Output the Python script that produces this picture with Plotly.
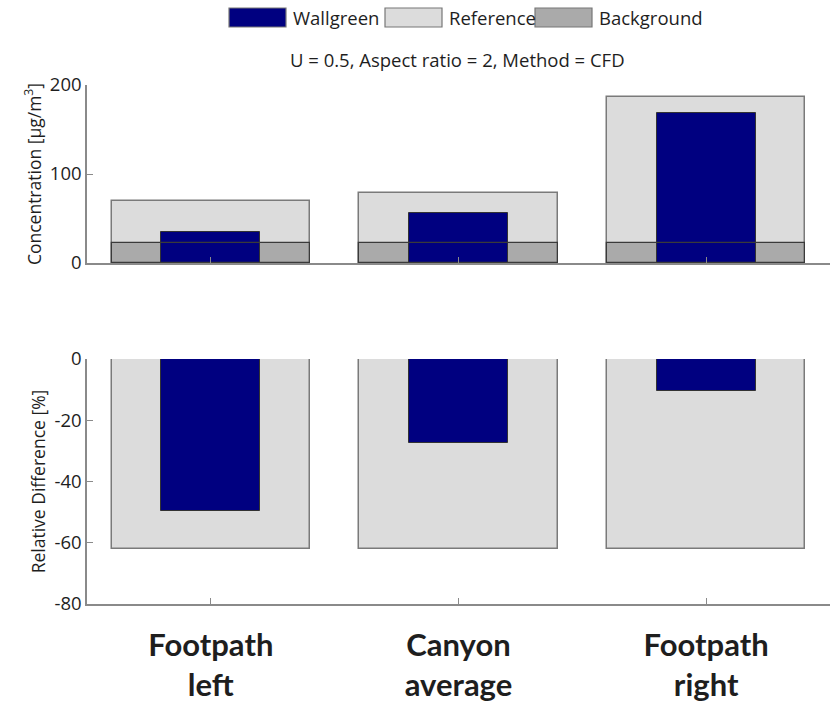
import plotly.graph_objects as go

# Categories and values
categories = ["Footpath<br>left", "Canyon<br>average", "Footpath<br>right"]
positions = [1, 2, 3]

reference_conc = [70, 79, 187]      # µg/m3
background_conc = [23, 23, 23]      # µg/m3
wallgreen_conc = [35, 56.5, 168]    # µg/m3

reference_rel = [-62, -62, -62]     # %
wallgreen_rel = [-49.5, -27.5, -10.5]  # %

conc_ticks = [0, 100, 200]
rel_ticks = [0, -20, -40, -60, -80]

W, H = 834, 711
NAVY = "#000080"
LIGHT = "#dcdcdc"
MID = "#aaaaaa"
AXIS = "#8a8a8a"
FONT = "Open Sans"
TXT = "#1e1e1e"

fig = go.Figure()

# Upper panel: absolute concentrations
fig.add_bar(x=positions, y=reference_conc, width=0.8,
            marker=dict(color=LIGHT, line=dict(color="#7a7a7a", width=1.5)),
            xaxis="x", yaxis="y", name="Reference")
fig.add_bar(x=positions, y=background_conc, width=0.8,
            marker=dict(color=MID, line=dict(color="#7a7a7a", width=1)),
            xaxis="x", yaxis="y", name="Background")
fig.add_bar(x=positions, y=wallgreen_conc, width=0.4,
            marker=dict(color=NAVY, line=dict(color="#333333", width=1)),
            xaxis="x", yaxis="y", name="Wallgreen")
# background outline drawn over the wallgreen bars
fig.add_bar(x=positions, y=background_conc, width=0.8,
            marker=dict(color="rgba(0,0,0,0)", line=dict(color="#3a3a3a", width=1.3)),
            xaxis="x", yaxis="y", name="Background", hoverinfo="skip")

# Lower panel: relative differences
fig.add_bar(x=positions, y=reference_rel, width=0.8,
            marker=dict(color=LIGHT, line=dict(color="#7a7a7a", width=1.5)),
            xaxis="x2", yaxis="y2", name="Reference")
fig.add_bar(x=positions, y=wallgreen_rel, width=0.4,
            marker=dict(color=NAVY, line=dict(color="#333333", width=1)),
            xaxis="x2", yaxis="y2", name="Wallgreen")


def px_x(p):
    return p / W


def px_y(p):
    return 1 - p / H


axis_common = dict(showline=True, linecolor=AXIS, linewidth=1.5, ticks="inside", ticklen=6,
                   tickcolor=AXIS, showgrid=False, zeroline=False, automargin=False)
tick_font = dict(family=FONT, size=18.5, color=TXT)
title_font = dict(family=FONT, size=17.5, color=TXT)

fig.update_layout(
    width=W, height=H,
    margin=dict(l=0, r=0, t=0, b=0),
    paper_bgcolor="white", plot_bgcolor="white",
    barmode="overlay", bargap=0,
    showlegend=False,
    font=dict(family=FONT, color=TXT),
    xaxis=dict(domain=[px_x(87), px_x(830)], range=[0.5, 3.5], anchor="y",
               tickvals=positions, showticklabels=False, **axis_common),
    yaxis=dict(domain=[px_y(263), px_y(85)], range=[0, 200], anchor="x",
               tickvals=conc_ticks, ticktext=[str(v) for v in conc_ticks], tickfont=tick_font,
               ticklabelstandoff=0,
               title=dict(text="Concentration [µg/m<sup>3</sup>]", font=title_font, standoff=4),
               **axis_common),
    xaxis2=dict(domain=[px_x(87), px_x(830)], range=[0.5, 3.5], anchor="y2",
                tickvals=positions, ticktext=categories, ticklabelstandoff=13,
                tickfont=dict(family="Lato", size=31, color=TXT, weight="bold"),
                **axis_common),
    yaxis2=dict(domain=[px_y(604), px_y(359)], range=[-80, 0], anchor="x2",
                tickvals=rel_ticks, ticktext=[str(v) for v in rel_ticks], tickfont=tick_font,
                ticklabelstandoff=0,
                title=dict(text="Relative Difference [%]", font=title_font, standoff=4),
                **axis_common),
)

# Panel title
fig.add_annotation(text="U = 0.5, Aspect ratio = 2, Method = CFD", xref="paper", yref="paper",
                   x=px_x(457), y=px_y(59), xanchor="center", yanchor="middle", showarrow=False,
                   font=dict(family=FONT, size=18.5, color=TXT))

# Legend row
legend_items = [("Wallgreen", NAVY, 229, 286), ("Reference", LIGHT, 385, 442), ("Background", MID, 535, 592)]
for label, color, x0, x1 in legend_items:
    fig.add_shape(type="rect", xref="paper", yref="paper", x0=px_x(x0), x1=px_x(x1), y0=px_y(27), y1=px_y(8),
                  fillcolor=color, line=dict(color="#777777", width=1.2))
    fig.add_annotation(text=label, xref="paper", yref="paper", x=px_x(x1 + 5), y=px_y(17.5),
                       xanchor="left", yanchor="middle", showarrow=False,
                       font=dict(family=FONT, size=18.5, color=TXT))

fig.write_html("out.html")
